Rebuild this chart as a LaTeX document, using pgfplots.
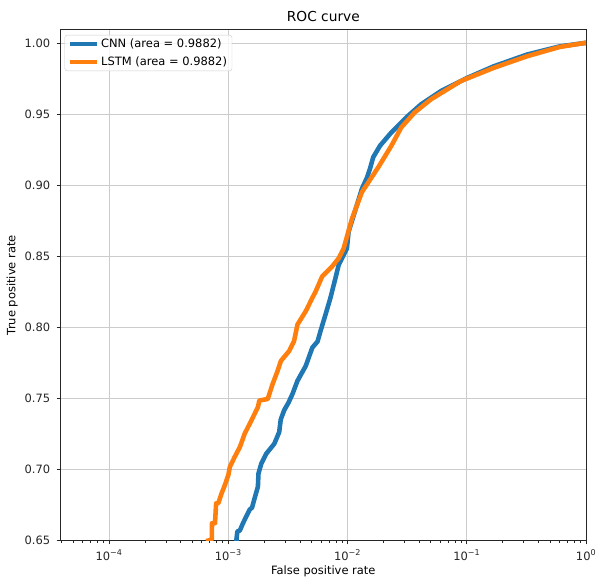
\documentclass[border=0pt]{standalone}
\usepackage{fontspec}
\setmainfont{DejaVu Sans}
\usepackage{pgfplots}
\pgfplotsset{compat=1.18}
\definecolor{tabblue}{HTML}{1F77B4}
\definecolor{taborange}{HTML}{FF7F0E}
\begin{document}
\begin{tikzpicture}
\begin{axis}[
  scale only axis, width=529bp, height=514bp,
  xmode=log, xmin=3.92e-5, xmax=1, ymin=0.65, ymax=1.0093,
  xtick={1e-4,1e-3,1e-2,1e-1,1},
  xticklabels={10\textsuperscript{−4},10\textsuperscript{−3},10\textsuperscript{−2},10\textsuperscript{−1},10\textsuperscript{0}},
  minor xtick={4e-5,5e-5,6e-5,7e-5,8e-5,9e-5,2e-4,3e-4,4e-4,5e-4,6e-4,7e-4,8e-4,9e-4,2e-3,3e-3,4e-3,5e-3,6e-3,7e-3,8e-3,9e-3,2e-2,3e-2,4e-2,5e-2,6e-2,7e-2,8e-2,9e-2,0.2,0.3,0.4,0.5,0.6,0.7,0.8,0.9},
  ytick={0.65,0.70,0.75,0.80,0.85,0.90,0.95,1.00},
  yticklabels={0.65,0.70,0.75,0.80,0.85,0.90,0.95,1.00},
  grid=major, major grid style={color=black!20, line width=0.9bp},
  tick align=outside, tick pos=left,
  major tick length=4bp, minor tick length=2.3bp,
  xticklabel shift=2bp, yticklabel shift=3bp,
  axis line style={black!85, line width=0.9bp},
  every tick/.style={black!85, line width=0.9bp},
  tick label style={font=\fontsize{11.6}{13}\selectfont, text=black!85},
  title={ROC curve}, title style={font=\fontsize{13.9}{16}\selectfont, yshift=-1bp},
  xlabel={False positive rate}, ylabel={True positive rate},
  label style={font=\fontsize{11.6}{13}\selectfont},
  xlabel style={yshift=1bp},
  legend cell align=left,
  legend style={at={(axis description cs:0.0076,0.990)}, anchor=north west, draw=black!20, rounded corners=2.5bp, fill=white, fill opacity=0.8, text opacity=1, font=\fontsize{11.6}{13}\selectfont, inner xsep=3bp, inner ysep=2bp, row sep=3.5bp},
  legend image code/.code={\draw[#1, line cap=butt] (0bp,0bp) -- (27bp,0bp);},
  every axis plot/.append style={line width=4.6bp, line join=round},
]
\addplot[tabblue] coordinates {
(1.17e-3,0.64) (1.17e-3,0.6507) (1.19e-3,0.6563) (1.25e-3,0.6570) (1.327e-3,0.6621) (1.51e-3,0.6717) (1.58e-3,0.6730) (1.66e-3,0.6796)
(1.77e-3,0.6878) (1.79e-3,0.6971) (1.89e-3,0.7040) (2.08e-3,0.7110) (2.43e-3,0.7180) (2.67e-3,0.7262)
(2.75e-3,0.7350) (2.94e-3,0.7416) (3.20e-3,0.7470) (3.45e-3,0.7530) (3.80e-3,0.7623) (4.46e-3,0.7728) (5.06e-3,0.7856) (5.60e-3,0.7900) (5.93e-3,0.7973)
(6.53e-3,0.8089) (7.18e-3,0.8206) (7.91e-3,0.8345) (8.42e-3,0.8438) (8.97e-3,0.8485) (9.87e-3,0.8555)
(1.02e-2,0.8672) (1.16e-2,0.8823) (1.32e-2,0.8975) (1.45e-2,0.9050) (1.54e-2,0.9114) (1.64e-2,0.9196) (1.87e-2,0.9277)
(2.33e-2,0.9371) (3.21e-2,0.9487) (4.14e-2,0.9569) (6.07e-2,0.9662) (0.101,0.9755) (0.168,0.9836)
(0.318,0.9918) (0.600,0.9976) (0.968,1.000) (1,1)
};
\addlegendentry{CNN (area = 0.9882)}
\addplot[taborange] coordinates {
(6.5e-4,0.6495) (7.26e-4,0.6505) (7.3e-4,0.6621) (7.73e-4,0.6621) (7.9e-4,0.6761) (8.23e-4,0.6761) (8.78e-4,0.6831)
(9.35e-4,0.6889) (1.0e-3,0.6960) (1.03e-3,0.7017) (1.13e-3,0.7087) (1.25e-3,0.7157) (1.37e-3,0.7250) (1.56e-3,0.7344)
(1.77e-3,0.7437) (1.82e-3,0.7484) (2.14e-3,0.7495) (2.35e-3,0.7600) (2.59e-3,0.7693) (2.76e-3,0.7763)
(3.24e-3,0.7833) (3.56e-3,0.7903) (3.80e-3,0.8019) (4.46e-3,0.8113) (5.06e-3,0.8206) (5.40e-3,0.8252)
(6.12e-3,0.8357) (7.41e-3,0.8427) (8.42e-3,0.8485) (9.27e-3,0.8555) (1.09e-2,0.8765) (1.32e-2,0.8951)
(1.81e-2,0.9126) (2.33e-2,0.9277) (2.82e-2,0.9406) (3.65e-2,0.9511) (5.01e-2,0.9604) (8.89e-2,0.9732)
(0.168,0.9825) (0.318,0.9906) (0.600,0.9972) (0.968,1.000) (1,1)
};
\addlegendentry{LSTM (area = 0.9882)}
\end{axis}
\pgfresetboundingbox
\path ([shift={(-61bp,-39bp)}]current axis.south west) rectangle ([shift={(12bp,30bp)}]current axis.north east);
\end{tikzpicture}
\end{document}
